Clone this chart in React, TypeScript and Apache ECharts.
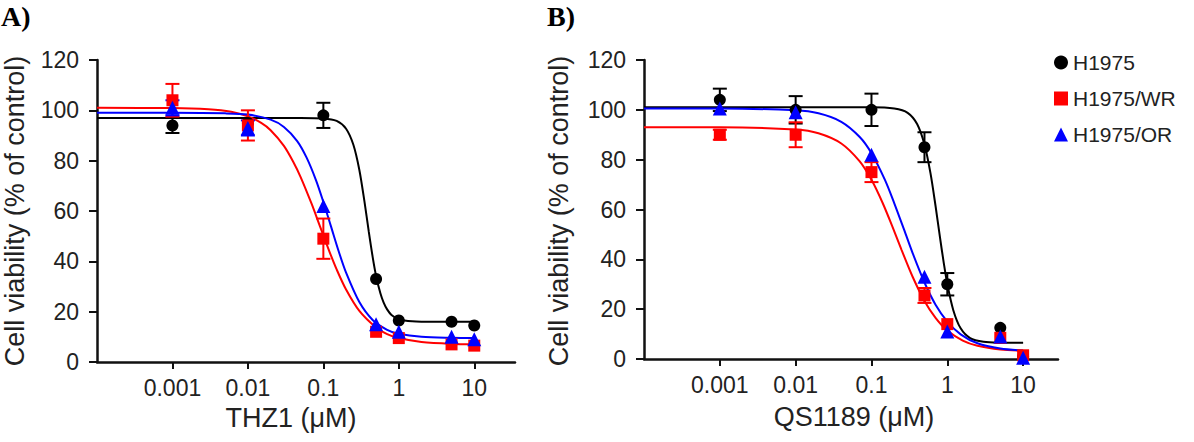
import React, { useEffect, useRef } from "react";
import * as echarts from "echarts";

// concentrations (µM)
const CONC = [0.001, 0.01, 0.1, 0.5, 1, 5, 10];
const X_TICKS = [0.001, 0.01, 0.1, 1, 10];
const Y_MAX = 120;

// Panel A: THZ1 (mean, error)
const THZ1_H1975 = [94, 95, 98, 33, 16.5, 16, 14.5];
const THZ1_H1975_ERR = [3, 0, 5, 0, 0, 0, 0];
const THZ1_WR = [104, 94, 49, 12, 9.5, 7, 6.5];
const THZ1_WR_ERR = [6.5, 6, 8, 0, 0, 0, 0];
const THZ1_OR = [101, 93, 62, 15, 12, 10, 9];
const THZ1_OR_ERR = [3, 3, 0, 0, 0, 0, 0];

// Panel A fitted curves
const THZ1_H1975_FIT_X = [0.0001, 0.05, 0.1, 0.15, 0.2, 0.25, 0.3, 0.35, 0.4, 0.45, 0.5, 0.57, 0.63, 0.7, 0.8, 1, 1.5, 3, 10];
const THZ1_H1975_FIT_Y = [97, 97, 96.8, 95.8, 92.7, 86.3, 76.3, 63.9, 51.8, 41.8, 34.2, 27.3, 23.6, 20.9, 18.7, 17, 16.2, 16, 16];
const THZ1_WR_FIT_X = [0.0001, 0.001, 0.003, 0.006, 0.01, 0.015, 0.02, 0.03, 0.04, 0.05, 0.07, 0.09, 0.12, 0.15, 0.2, 0.3, 0.5, 0.7, 1, 2, 5, 10];
const THZ1_WR_FIT_Y = [101, 100.9, 100.4, 99.4, 97.6, 95, 92.1, 85.9, 79.5, 73.5, 62.8, 54, 44, 36.8, 28.8, 20.3, 13.7, 11.1, 9.5, 7.9, 7.2, 7.1];
const THZ1_OR_FIT_X = [0.0001, 0.001, 0.005, 0.01, 0.02, 0.03, 0.045, 0.06, 0.08, 0.1, 0.125, 0.16, 0.2, 0.3, 0.45, 0.7, 1, 2, 5, 10];
const THZ1_OR_FIT_Y = [99, 99, 98.8, 98.3, 96.3, 93.4, 87.8, 81.2, 72.2, 63.6, 54.3, 43.9, 35.5, 23.8, 16.7, 12.8, 11.2, 10, 9.6, 9.5];

// Panel B: QS1189 (mean, error)
const QS_H1975 = [104, 100, 100, 85, 30, 12.5, 1];
const QS_H1975_ERR = [4.5, 5.5, 6.5, 6, 4.5, 0, 0];
const QS_WR = [90, 90, 75, 25.5, 14, 8.5, 1.5];
const QS_WR_ERR = [2, 5, 4, 3, 0, 0, 0];
const QS_OR = [100.5, 99, 82, 33, 11, 9, 0.5];
const QS_OR_ERR = [0, 0, 0, 0, 0, 0, 0];

// Panel B fitted curves
const QS_H1975_FIT_X = [0.0001, 0.1, 0.2, 0.3, 0.4, 0.5, 0.6, 0.7, 0.8, 0.9, 1, 1.2, 1.5, 2, 3, 5, 10];
const QS_H1975_FIT_Y = [101, 101, 100.5, 98.8, 94.3, 86.1, 74.6, 61.4, 48.9, 38.4, 30.1, 19.6, 12.3, 8.4, 6.9, 6.55, 6.5];
const QS_WR_FIT_X = [0.0001, 0.001, 0.01, 0.02, 0.04, 0.07, 0.1, 0.14, 0.19, 0.25, 0.35, 0.5, 0.7, 1, 1.6, 2.5, 5, 10];
const QS_WR_FIT_Y = [93, 93, 92.1, 90.6, 86.5, 79.3, 71.9, 62.7, 52.9, 43.7, 32.9, 23.3, 16.5, 11.4, 7.4, 5.3, 3.8, 3.3];
const QS_OR_FIT_X = [0.0001, 0.001, 0.01, 0.02, 0.04, 0.07, 0.1, 0.15, 0.2, 0.27, 0.35, 0.5, 0.7, 1, 1.5, 2.5, 5, 10];
const QS_OR_FIT_Y = [100.5, 100.5, 99.8, 98.6, 95.2, 89.1, 82.6, 72, 62.5, 51.8, 42.4, 30.7, 21.8, 15, 9.9, 6.3, 4.2, 3.4];

const NAMES = ["H1975", "H1975/WR", "H1975/OR"];
const COLORS = ["#000000", "#ff0000", "#0000ff"];
const SYMBOLS = ["circle", "rect", "triangle"];
const SYMBOL_SIZES = [12, 12, 14];

const FONT = '"Liberation Sans", Arial, sans-serif';

function pairs(xs: number[], ys: number[]) {
  return xs.map((x, i) => [x, ys[i]]);
}
function triples(xs: number[], ys: number[], es: number[]) {
  return xs.map((x, i) => [x, ys[i], es[i]]);
}
function fmt(v: number) {
  return String(Number(Number(v).toPrecision(3)));
}

export default function App() {
  const ref = useRef<HTMLDivElement>(null);
  useEffect(() => {
    document.body.style.margin = "0";
    const chart = echarts.init(ref.current!, null, { renderer: "svg" });

    const axisColor = "#111";
    const mkX = (gi: number, max: number) => ({
      type: "log",
      logBase: 10,
      gridIndex: gi,
      min: 0.0001,
      max,
      axisLine: { show: true, onZero: false, lineStyle: { color: axisColor, width: 2.5 } },
      axisTick: { show: true, length: 7, customValues: X_TICKS, lineStyle: { color: axisColor, width: 2 } },
      axisLabel: {
        customValues: X_TICKS,
        margin: 14,
        fontSize: 23,
        color: "#222",
        fontFamily: FONT,
        formatter: (v: number) => fmt(v),
      },
      splitLine: { show: false },
      minorTick: { show: false },
    });
    const mkY = (gi: number) => ({
      type: "value",
      gridIndex: gi,
      min: 0,
      max: Y_MAX,
      interval: 20,
      axisLine: { show: true, onZero: false, lineStyle: { color: axisColor, width: 2.5 } },
      axisTick: { show: true, length: 8, lineStyle: { color: axisColor, width: 2 } },
      axisLabel: { margin: 18, fontSize: 23, color: "#222", fontFamily: FONT },
      splitLine: { show: false },
    });

    const errRender = (color: string) => (params: any, api: any) => {
      const x = api.value(0);
      const y = api.value(1);
      const e = api.value(2);
      if (!e) return null;
      const t = api.coord([x, y + e]);
      const b = api.coord([x, y - e]);
      const hw = 7;
      const st = { stroke: color, lineWidth: 2 };
      return {
        type: "group",
        children: [
          { type: "line", shape: { x1: t[0], y1: t[1], x2: b[0], y2: b[1] }, style: st },
          { type: "line", shape: { x1: t[0] - hw, y1: t[1], x2: t[0] + hw, y2: t[1] }, style: st },
          { type: "line", shape: { x1: b[0] - hw, y1: b[1], x2: b[0] + hw, y2: b[1] }, style: st },
        ],
      };
    };

    const panels = [
      {
        vals: [THZ1_H1975, THZ1_WR, THZ1_OR],
        errs: [THZ1_H1975_ERR, THZ1_WR_ERR, THZ1_OR_ERR],
        fits: [
          [THZ1_H1975_FIT_X, THZ1_H1975_FIT_Y],
          [THZ1_WR_FIT_X, THZ1_WR_FIT_Y],
          [THZ1_OR_FIT_X, THZ1_OR_FIT_Y],
        ],
      },
      {
        vals: [QS_H1975, QS_WR, QS_OR],
        errs: [QS_H1975_ERR, QS_WR_ERR, QS_OR_ERR],
        fits: [
          [QS_H1975_FIT_X, QS_H1975_FIT_Y],
          [QS_WR_FIT_X, QS_WR_FIT_Y],
          [QS_OR_FIT_X, QS_OR_FIT_Y],
        ],
      },
    ];

    const series: any[] = [];
    panels.forEach((p, gi) => {
      for (let s = 0; s < 3; s++) {
        series.push({
          type: "line",
          name: NAMES[s] + " fit " + gi,
          xAxisIndex: gi,
          yAxisIndex: gi,
          data: pairs(p.fits[s][0], p.fits[s][1]),
          showSymbol: false,
          symbol: "none",
          smooth: 0.3,
          lineStyle: { color: COLORS[s], width: 2 },
          z: 2,
          silent: true,
        });
      }
      for (let s = 0; s < 3; s++) {
        series.push({
          type: "custom",
          name: NAMES[s] + " err " + gi,
          xAxisIndex: gi,
          yAxisIndex: gi,
          data: triples(CONC, p.vals[s], p.errs[s]),
          encode: { x: 0, y: 1 },
          renderItem: errRender(COLORS[s]),
          z: 3,
          silent: true,
        });
      }
      for (let s = 0; s < 3; s++) {
        series.push({
          type: "scatter",
          name: NAMES[s],
          xAxisIndex: gi,
          yAxisIndex: gi,
          data: pairs(CONC, p.vals[s]),
          symbol: SYMBOLS[s],
          symbolSize: SYMBOL_SIZES[s],
          itemStyle: { color: COLORS[s], opacity: 1 },
          z: 4,
          silent: true,
        });
      }
    });

    const center = { textAlign: "center", textVerticalAlign: "middle", align: "center", verticalAlign: "middle" };
    const titleFont = '27px "Liberation Sans", Arial, sans-serif';
    const labelFont = 'bold 28px "Liberation Serif", "Times New Roman", serif';

    chart.setOption({
      animation: false,
      backgroundColor: "#ffffff",
      grid: [
        { left: 97, right: 679, top: 60, bottom: 80 },
        { left: 644, right: 136, top: 60, bottom: 83 },
      ],
      xAxis: [mkX(0, Math.pow(10, 1.54)), mkX(1, Math.pow(10, 1.46))],
      yAxis: [mkY(0), mkY(1)],
      legend: {
        orient: "vertical",
        left: 1054,
        top: 52,
        padding: 0,
        itemWidth: 14,
        itemHeight: 14,
        itemGap: 15,
        selectedMode: false,
        textStyle: { fontSize: 21, color: "#222", fontFamily: FONT },
        data: NAMES.map((n, i) => ({ name: n, icon: SYMBOLS[i] })),
      },
      graphic: [
        {
          type: "text",
          x: 1,
          y: 16,
          style: { text: "A)", font: labelFont, fill: "#000", textAlign: "left", textVerticalAlign: "middle", align: "left", verticalAlign: "middle" },
        },
        {
          type: "text",
          x: 547,
          y: 16,
          style: { text: "B)", font: labelFont, fill: "#000", textAlign: "left", textVerticalAlign: "middle", align: "left", verticalAlign: "middle" },
        },
        ...[15, 559].map((x) => ({
          type: "text",
          x,
          y: 211,
          rotation: Math.PI / 2,
          style: { text: "Cell viability (% of control)", font: titleFont, fill: "#222", ...center },
        })),
        {
          type: "text",
          x: 291,
          y: 418,
          style: { text: "THZ1 (\u03bcM)", font: titleFont, fill: "#222", ...center },
        },
        {
          type: "text",
          x: 854,
          y: 417,
          style: { text: "QS1189 (\u03bcM)", font: titleFont, fill: "#222", ...center },
        },
      ],
      series,
    });

    return () => chart.dispose();
  }, []);

  return (
    <div
      ref={ref}
      style={{ width: 1194, height: 442, position: "fixed", left: 0, top: 0, background: "#fff" }}
    />
  );
}
